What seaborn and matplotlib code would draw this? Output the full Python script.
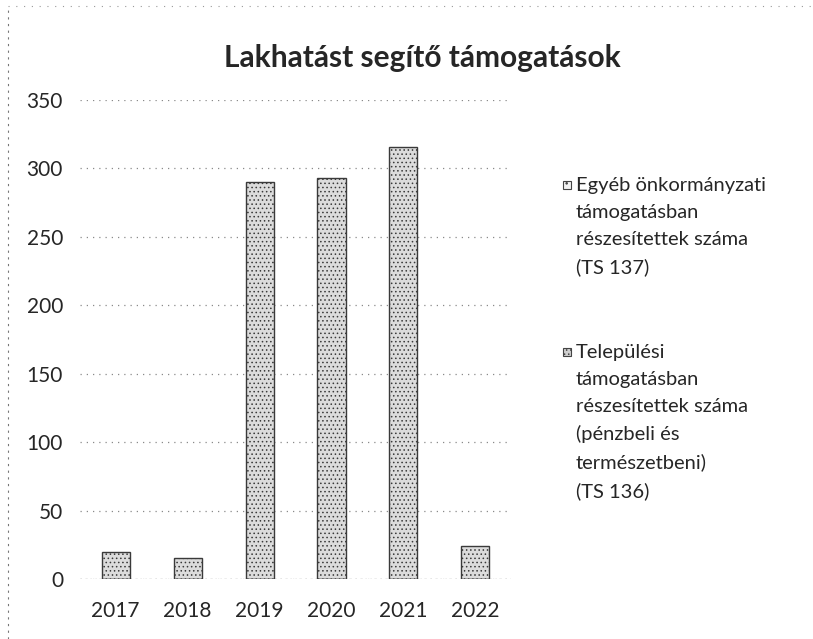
import matplotlib
matplotlib.use("Agg")
import matplotlib.pyplot as plt
from matplotlib.lines import Line2D
from matplotlib.patches import Rectangle
import seaborn as sns
import pandas as pd

# Data
years = ["2017", "2018", "2019", "2020", "2021", "2022"]
egyeb = [0, 0, 0, 0, 0, 0]                       # TS 137
telepulesi = [20, 15, 290, 293, 316, 24]          # TS 136
yticks = [0, 50, 100, 150, 200, 250, 300, 350]

title = "Lakhatást segítő támogatások"
label_egyeb = "Egyéb önkormányzati\ntámogatásban\nrészesítettek száma\n(TS 137)"
label_telep = ("Települési\ntámogatásban\nrészesítettek száma\n"
               "(pénzbeli és\ntermészetbeni)\n(TS 136)")

df = pd.DataFrame({"year": years, "egyeb": egyeb, "telepulesi": telepulesi})
df["total"] = df["egyeb"] + df["telepulesi"]

sns.set_style("white")
plt.rcParams["font.family"] = ["Lato", "DejaVu Sans"]
plt.rcParams["hatch.linewidth"] = 0.6

fig = plt.figure(figsize=(8.13, 6.39), dpi=100)
ax = fig.add_axes([0.098, 0.094, 0.531, 0.7495])

# stacked: total first (Települési style), then Egyéb at the bottom
sns.barplot(data=df, x="year", y="total", ax=ax, width=0.39,
            color="#dcdcdc", edgecolor="#3a3a3a", linewidth=1.0,
            hatch="....", saturation=1)
sns.barplot(data=df, x="year", y="egyeb", ax=ax, width=0.39,
            color="#f2f2f2", edgecolor="#3a3a3a", linewidth=1.0,
            hatch="..", saturation=1)

ax.set_xlim(-0.5, len(years) - 0.5)
ax.set_ylim(0, 350)
ax.set_yticks(yticks)
ax.set_xlabel("")
ax.set_ylabel("")
ax.yaxis.grid(True, color="#8a8a8a", linestyle=(0, (1, 4)), linewidth=0.9)
ax.set_axisbelow(True)
for s in ax.spines.values():
    s.set_visible(False)
ax.axhline(0, color="#555555", linestyle=(0, (1, 3)), linewidth=0.9, zorder=0)
ax.tick_params(axis="y", length=0, pad=12, labelsize=15)
ax.tick_params(axis="x", length=0, pad=16, labelsize=15)

fig.text(0.52, 0.909, title, ha="center", va="center",
         fontsize=21.5, fontweight="bold")

# legend drawn by hand so the marker sits at the first text line
legend_items = [
    (label_egyeb, "#f2f2f2", "..", 185),
    (label_telep, "#cfcfcf", "....", 352),
]
W, H = 813, 639
for text, face, hatch, y_px in legend_items:
    fig.add_artist(Rectangle((563 / W, 1 - (y_px + 4) / H), 8 / W, 8 / H,
                             transform=fig.transFigure, facecolor=face,
                             edgecolor="#444444", hatch=hatch, linewidth=0.8))
    fig.text(576 / W, 1 - (y_px - 8) / H, text, ha="left", va="top",
             fontsize=14.5, linespacing=1.7)

# scan page border (left and top)
fig.add_artist(Line2D([0.01, 0.01], [0.0, 0.99], transform=fig.transFigure,
                      color="#777777", linestyle=(0, (2, 4)), linewidth=0.8))
fig.add_artist(Line2D([0.01, 1.0], [0.99, 0.99], transform=fig.transFigure,
                      color="#999999", linestyle=(0, (1, 6)), linewidth=0.8))

fig.savefig("out.png", dpi=100)
